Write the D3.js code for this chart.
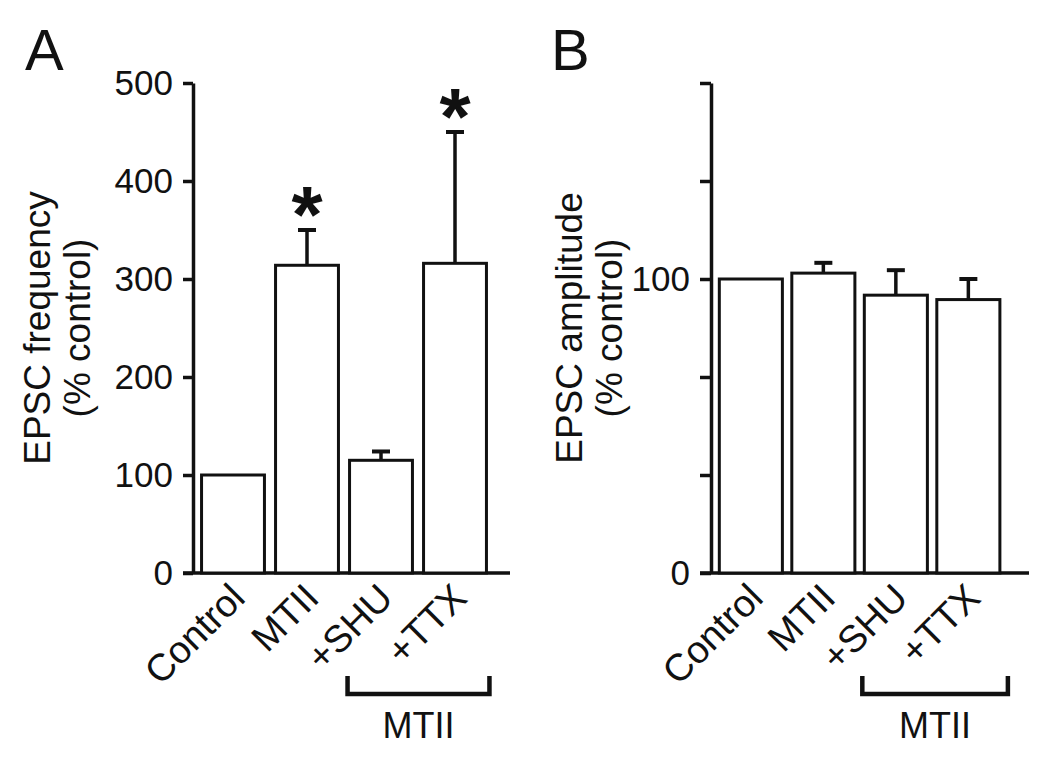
<!DOCTYPE html>
<html>
<head>
<meta charset="utf-8">
<script src="https://cdn.jsdelivr.net/npm/d3@7"></script>
<style>
  html, body { margin: 0; padding: 0; background: #fff; }
  svg { display: block; font-family: "Liberation Sans", Arial, sans-serif; }
</style>
</head>
<body>
<svg id="chart" width="1050" height="757"></svg>
<script>
// ---------------- data ----------------
const categories = ["Control", "MTII", "+SHU", "+TTX"];
const freqMean = [100, 314, 115, 316];
const freqSem  = [0, 36, 9, 134];
const freqSig  = ["", "*", "", "*"];
const freqTicks = [0, 100, 200, 300, 400, 500];
const freqTickLabels = ["0", "100", "200", "300", "400", "500"];

const ampMean = [100, 102, 94.5, 93];
const ampSem  = [0, 3.5, 8.5, 7];
const ampSig  = ["", "", "", ""];
const ampTicks = [0, 100 / 3, 200 / 3, 100, 400 / 3, 500 / 3];
const ampTickLabels = ["0", "", "", "100", "", ""];

const bracketGroups = ["+SHU", "+TTX"];
const bracketLabel = "MTII";

// ---------------- drawing ----------------
const svg = d3.select("#chart");
const ink = "#111";

function panel(opt) {
  const g = svg.append("g");
  const x = d3.scaleBand().domain(categories).range(opt.xRange)
    .paddingInner(opt.padIn).paddingOuter(opt.padOut);
  const y = d3.scaleLinear().domain(opt.yDomain).range([573, 83]);
  const y0 = y(0);

  // y axis
  const yAxis = d3.axisLeft(y).tickValues(opt.ticks)
    .tickFormat((d, i) => opt.tickLabels[i]).tickSize(opt.tickLen).tickSizeOuter(0).tickPadding(10);
  const ya = g.append("g").attr("transform", `translate(${opt.axisX},0)`).call(yAxis);
  ya.select(".domain").attr("stroke", ink).attr("stroke-width", 3.5);
  ya.selectAll(".tick line").attr("stroke", ink).attr("stroke-width", 3.5);
  ya.selectAll(".tick text").attr("fill", ink).style("font-size", "35px")
    .style("font-family", "Liberation Sans, Arial, sans-serif");

  // x axis line
  g.append("line")
    .attr("x1", opt.axisX - opt.tickLen).attr("x2", opt.xAxisEnd)
    .attr("y1", y0).attr("y2", y0)
    .attr("stroke", ink).attr("stroke-width", 3.5);

  // bars
  g.selectAll("rect.bar").data(opt.mean).join("rect")
    .attr("class", "bar")
    .attr("x", (d, i) => x(categories[i]))
    .attr("width", x.bandwidth())
    .attr("y", d => y(d))
    .attr("height", d => y0 - y(d))
    .attr("fill", "#fff").attr("stroke", ink).attr("stroke-width", 3);

  // error bars
  const eb = opt.mean.map((m, i) => ({ m, s: opt.sem[i], c: categories[i] })).filter(d => d.s > 0);
  g.selectAll("line.err").data(eb).join("line")
    .attr("x1", d => x(d.c) + x.bandwidth() / 2).attr("x2", d => x(d.c) + x.bandwidth() / 2)
    .attr("y1", d => y(d.m)).attr("y2", d => y(d.m + d.s))
    .attr("stroke", ink).attr("stroke-width", 3.5);
  g.selectAll("line.cap").data(eb).join("line")
    .attr("x1", d => x(d.c) + x.bandwidth() / 2 - 9).attr("x2", d => x(d.c) + x.bandwidth() / 2 + 9)
    .attr("y1", d => y(d.m + d.s)).attr("y2", d => y(d.m + d.s))
    .attr("stroke", ink).attr("stroke-width", 4);

  // significance
  g.selectAll("text.sig").data(opt.sig).join("text")
    .attr("class", "sig")
    .attr("x", (d, i) => x(categories[i]) + x.bandwidth() / 2)
    .attr("y", (d, i) => y(opt.mean[i] + opt.sem[i]) - 26 + 38)
    .attr("text-anchor", "middle")
    .style("font-size", "80px").style("font-weight", "bold")
    .attr("fill", ink)
    .text(d => d);

  // category labels
  g.selectAll("text.cat").data(categories).join("text")
    .attr("class", "cat")
    .attr("transform", d => `translate(${x(d) + x.bandwidth() / 2 + 14},${y0 + 27}) rotate(-45)`)
    .attr("text-anchor", "end")
    .style("font-size", "38px")
    .attr("fill", ink)
    .text(d => d);

  // bracket
  const bx1 = x(bracketGroups[0]) - 2;
  const bx2 = x(bracketGroups[1]) + x.bandwidth() + opt.bracketExtra;
  g.append("path")
    .attr("d", `M${bx1},676 V694 H${bx2} V676`)
    .attr("fill", "none").attr("stroke", ink).attr("stroke-width", 4.5);
  g.append("text")
    .attr("x", (bx1 + bx2) / 2).attr("y", 738)
    .attr("text-anchor", "middle")
    .style("font-size", "36px").attr("fill", ink)
    .text(bracketLabel);

  // y title
  const t = g.append("text")
    .attr("transform", `translate(${opt.titleX},328) rotate(-90)`)
    .attr("text-anchor", "middle")
    .style("font-size", "37px").attr("fill", ink);
  t.append("tspan").attr("x", 0).attr("y", 0).text(opt.title1);
  t.append("tspan").attr("x", 0).attr("y", 40).text("(% control)");

  // panel letter
  g.append("text").attr("x", opt.letterX).attr("y", 70)
    .style("font-size", "58px").attr("fill", ink).text(opt.letter);
}

panel({
  letter: "A", letterX: 25,
  xRange: [196, 492], padIn: 0.15, padOut: 0.075,
  yDomain: [0, 500], ticks: freqTicks, tickLabels: freqTickLabels,
  axisX: 193, tickLen: 10, xAxisEnd: 510,
  mean: freqMean, sem: freqSem, sig: freqSig,
  bracketExtra: 3,
  titleX: 50, title1: "EPSC frequency"
});

panel({
  letter: "B", letterX: 551,
  xRange: [714.6, 1004.6], padIn: 0.13, padOut: 0.065,
  yDomain: [0, 500 / 3], ticks: ampTicks, tickLabels: ampTickLabels,
  axisX: 711, tickLen: 11, xAxisEnd: 1029,
  mean: ampMean, sem: ampSem, sig: ampSig,
  bracketExtra: 8,
  titleX: 582, title1: "EPSC amplitude"
});
</script>
</body>
</html>
